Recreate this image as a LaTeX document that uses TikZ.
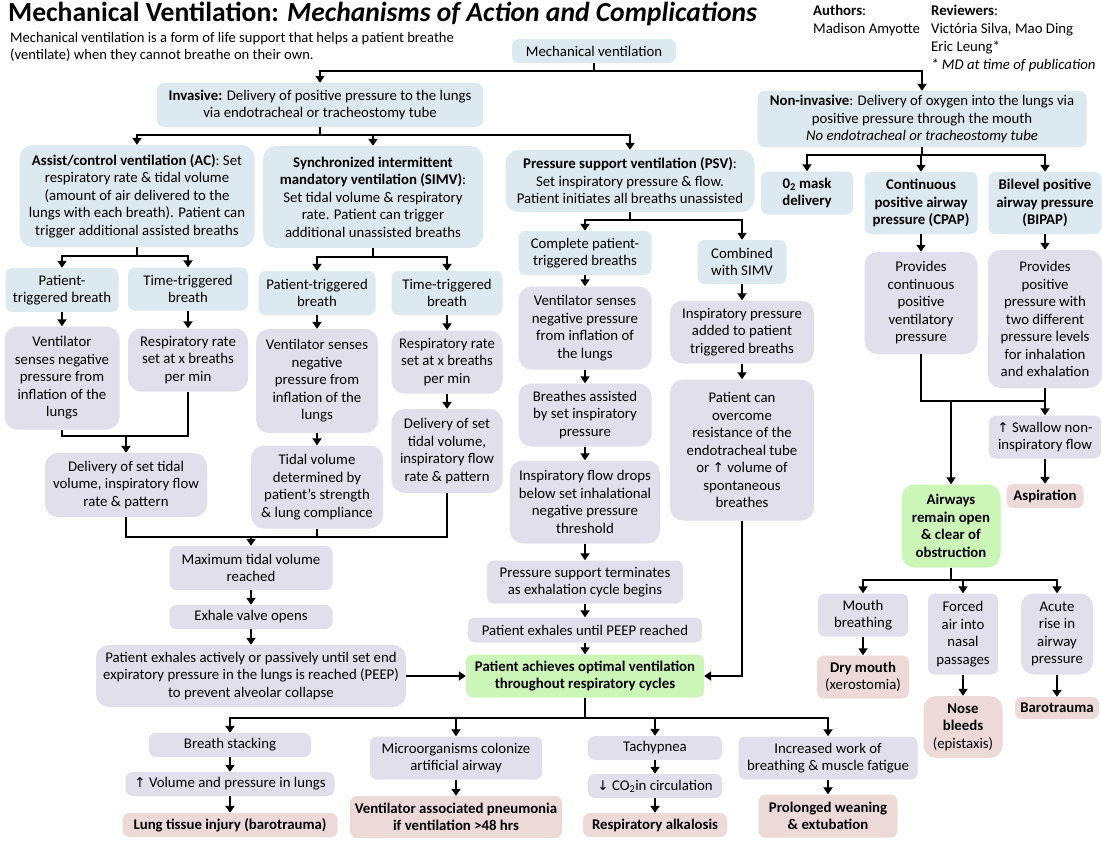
\documentclass[tikz,border=0pt]{standalone}
\usepackage{fontspec}
\setmainfont{Carlito}
\newfontfamily\arrowfont{DejaVu Sans}
\usetikzlibrary{arrows.meta}
\definecolor{bluefill}{HTML}{DCE9F0}
\definecolor{purfill}{HTML}{E2DFEC}
\definecolor{pinkfill}{HTML}{EDDAD8}
\definecolor{greenfill}{HTML}{CCF6B8}
\newcommand{\uparr}{{\arrowfont\fontsize{13.5}{14}\selectfont ↑}}
\newcommand{\downarr}{{\arrowfont\fontsize{13.5}{14}\selectfont ↓}}
\tikzset{
  box/.style={rounded corners=7pt, align=center, inner sep=1pt,
    font=\fontsize{14.8}{17.5}\selectfont},
  blu/.style={box, fill=bluefill},
  pur/.style={box, fill=purfill},
  pnk/.style={box, fill=pinkfill, font=\fontsize{14.8}{17.5}\selectfont\bfseries},
  grn/.style={box, fill=greenfill, font=\fontsize{14.8}{17.5}\selectfont\bfseries},
  big/.style={rounded corners=13pt},
  wh/.style 2 args={minimum width=#1pt, minimum height=#2pt},
  ln/.style={line width=2.8pt},
  arr/.style={ln, -{Triangle[length=7pt, width=9pt]}},
}

\begin{document}
\begin{tikzpicture}[x=1pt, y=-1pt]
  \path[fill=white] (0,0) rectangle (1102,847);
  \useasboundingbox (0,0) rectangle (1102,847);

  % header
  \node[anchor=base west, inner sep=0] (title) at (8,21)
    {\fontsize{27.6}{30}\selectfont\bfseries Mechanical Ventilation: \textit{Mechanisms of Action and Complications}};
  \node[anchor=north west, align=left, inner sep=0, font=\fontsize{14.6}{17}\selectfont] (intro) at (10,32)
    {Mechanical ventilation is a form of life support that helps a patient breathe\\(ventilate) when they cannot breathe on their own.};
  \node[anchor=north west, align=left, inner sep=0, font=\fontsize{14.8}{18}\selectfont] (auth) at (813,5)
    {\textbf{Authors}:\\Madison Amyotte};
  \node[anchor=north west, align=left, inner sep=0, font=\fontsize{14.8}{18}\selectfont] (rev) at (931,5)
    {\textbf{Reviewers}:\\Victória Silva, Mao Ding\\Eric Leung*\\\textit{* MD at time of publication}};

  % top levels
  \node[blu, wh={164}{24}] (mv) at (594,51) {Mechanical ventilation};
  \node[blu, wh={326}{44}] (inv) at (320,105)
    {\textbf{Invasive:} Delivery of positive pressure to the lungs\\via endotracheal or tracheostomy tube};
  \node[blu, wh={329}{56}] (noninv) at (922,119)
    {\textbf{Non-invasive}: Delivery of oxygen into the lungs via\\positive pressure through the mouth\\\textit{No endotracheal or tracheostomy tube}};

  % invasive modes
  \node[blu, big, wh={235}{102}] (ac) at (137,196)
    {\textbf{Assist/control ventilation (AC)}: Set\\respiratory rate \& tidal volume\\(amount of air delivered to the\\lungs with each breath). Patient can\\trigger additional assisted breaths};
  \node[blu, big, wh={220}{102}] (simv) at (373,197)
    {\textbf{Synchronized intermittent}\\\textbf{mandatory ventilation (SIMV)}:\\Set tidal volume \& respiratory\\rate. Patient can trigger\\additional unassisted breaths};
  \node[blu, big, wh={249}{62}] (psv) at (630,181)
    {\textbf{Pressure support ventilation (PSV)}:\\Set inspiratory pressure \& flow.\\Patient initiates all breaths unassisted};

  % non-invasive modes
  \node[blu, wh={92}{43}] (otwo) at (807,193) {\textbf{0\textsubscript{2} mask}\\\textbf{delivery}};
  \node[blu, wh={113}{62}] (cpap) at (921,203)
    {\textbf{Continuous}\\\textbf{positive airway}\\\textbf{pressure (CPAP)}};
  \node[blu, wh={113}{62}] (bipap) at (1045,203)
    {\textbf{Bilevel positive}\\\textbf{airway pressure}\\\textbf{(BIPAP)}};

  % AC branch
  \node[blu, wh={113}{44}] (acpt) at (62,290) {Patient-\\triggered breath};
  \node[blu, wh={120}{43}] (actt) at (188,289) {Time-triggered\\breath};
  \node[pur, big, wh={115}{103}] (acvs) at (62,378)
    {Ventilator\\senses negative\\pressure from\\inflation of the\\lungs};
  \node[pur, big, wh={120}{63}] (acrr) at (188,360) {Respiratory rate\\set at x breaths\\per min};
  \node[pur, big, wh={162}{64}] (acdel) at (126,485)
    {Delivery of set tidal\\volume, inspiratory flow\\rate \& pattern};

  % SIMV branch
  \node[blu, wh={117}{44}] (simvpt) at (317,293) {Patient-triggered\\breath};
  \node[blu, wh={111}{44}] (simvtt) at (447,293) {Time-triggered\\breath};
  \node[pur, big, wh={122}{104}] (simvvs) at (317,381)
    {Ventilator senses\\negative\\pressure from\\inflation of the\\lungs};
  \node[pur, big, wh={111}{63}] (simvrr) at (447,362) {Respiratory rate\\set at x breaths\\per min};
  \node[pur, big, wh={111}{84}] (simvdel) at (447,451)
    {Delivery of set\\tidal volume,\\inspiratory flow\\rate \& pattern};
  \node[pur, big, wh={132}{83}] (simvtv) at (317,487)
    {Tidal volume\\determined by\\patient’s strength\\\& lung compliance};

  \node[pur, wh={163}{44}] (maxtv) at (251,568) {Maximum tidal volume\\reached};
  \node[pur, wh={163}{24}] (exhale) at (251,617) {Exhale valve opens};
  \node[pur, big, wh={310}{62}] (pexh) at (251,676)
    {Patient exhales actively or passively until set end\\expiratory pressure in the lungs is reached (PEEP)\\to prevent alveolar collapse};

  % PSV branch
  \node[blu, wh={133}{44}] (pscomp) at (585,253) {Complete patient-\\triggered breaths};
  \node[pur, big, wh={133}{83}] (pcvs) at (585,328)
    {Ventilator senses\\negative pressure\\from inflation of\\the lungs};
  \node[pur, big, wh={133}{63}] (pcba) at (585,415) {Breathes assisted\\by set inspiratory\\pressure};
  \node[pur, big, wh={150}{83}] (pcflow) at (585,502)
    {Inspiratory flow drops\\below set inhalational\\negative pressure\\threshold};
  \node[pur, wh={196}{43}] (pcterm) at (585,582) {Pressure support terminates\\as exhalation cycle begins};
  \node[pur, wh={234}{25}] (pcpeep) at (585,630) {Patient exhales until PEEP reached};
  \node[blu, wh={89}{44}] (comb) at (742,262) {Combined\\with SIMV};
  \node[pur, big, wh={144}{63}] (cinsp) at (742,332)
    {Inspiratory pressure\\added to patient\\triggered breaths};
  \node[pur, big, wh={144}{141}] (covr) at (742,450)
    {Patient can\\overcome\\resistance of the\\endotracheal tube\\or \uparr{} volume of\\spontaneous\\breathes};

  \node[grn, wh={238}{43}] (opt) at (585,676)
    {Patient achieves optimal ventilation\\throughout respiratory cycles};

  % complications of invasive ventilation
  \node[pur, wh={162}{24}] (bstack) at (230,745) {Breath stacking};
  \node[pur, wh={209}{24}] (bvol) at (230,784) {\uparr{} Volume and pressure in lungs};
  \node[pnk, wh={215}{24}] (binj) at (230,825) {Lung tissue injury (barotrauma)};
  \node[pur, wh={172}{43}] (micro) at (456,758) {Microorganisms colonize\\artificial airway};
  \node[pnk, wh={212}{42}] (vap) at (456,817)
    {Ventilator associated pneumonia\\if ventilation >48 hrs};
  \node[pur, wh={134}{24}] (tachy) at (655,748) {Tachypnea};
  \node[pur, wh={134}{24}] (cotwo) at (655,786) {\downarr{} CO\textsubscript{2}in circulation};
  \node[pnk, wh={144}{24}] (ralk) at (655,825) {Respiratory alkalosis};
  \node[pur, wh={179}{43}] (incw) at (828,758) {Increased work of\\breathing \& muscle fatigue};
  \node[pnk, wh={139}{43}] (prolong) at (828,816) {Prolonged weaning\\\& extubation};

  % non-invasive branch
  \node[pur, big, wh={113}{102}] (cpapp) at (921,303)
    {Provides\\continuous\\positive\\ventilatory\\pressure};
  \node[pur, big, wh={114}{138}] (bipapp) at (1045,319)
    {Provides\\positive\\pressure with\\two different\\pressure levels\\for inhalation\\and exhalation};
  \node[pur, wh={112}{43}] (swallow) at (1045,437) {\uparr{} Swallow non-\\inspiratory flow};
  \node[pnk, wh={77}{24}] (aspir) at (1045,496) {Aspiration};
  \node[grn, big, wh={99}{83}] (airw) at (951,526)
    {Airways\\remain open\\\& clear of\\obstruction};
  \node[pur, wh={90}{43}] (mouth) at (863,615) {Mouth\\breathing};
  \node[pnk, wh={92}{43}] (drym) at (863,677) {Dry mouth\\\textmd{(xerostomia)}};
  \node[pur, wh={70}{81}] (forced) at (963,634) {Forced\\air into\\nasal\\passages};
  \node[pnk, big, wh={79}{62}] (nose) at (963,727) {Nose\\bleeds\\\textmd{(epistaxis)}};
  \node[pur, big, wh={72}{81}] (acute) at (1057,634) {Acute\\rise in\\airway\\pressure};
  \node[pnk, wh={84}{22}] (baro) at (1057,708) {Barotrauma};

  % junctions
  \coordinate (mvj) at (594,71);
  \coordinate (invj) at (320,135);
  \coordinate (nij) at (922,155);
  \coordinate (acj) at (137,256);
  \coordinate (acm) at (126,436);
  \coordinate (simvj) at (373,257);
  \coordinate (mxj) at (251,537);
  \coordinate (psvj) at (630,220);
  \coordinate (optj) at (585,718);
  \coordinate (npj) at (951,401);
  \coordinate (awj) at (951,580);

  % connectors
  \draw[ln] (mv.south) -- (mvj);
  \draw[arr] (mvj) -| (inv.north);
  \draw[arr] (mvj) -| (noninv.north);
  \draw[ln] (inv.south) -- (invj);
  \draw[arr] (invj) -| (ac.north);
  \draw[arr] (invj) -| (simv.north);
  \draw[arr] (invj) -| (psv.north);
  \draw[ln] (noninv.south) -- (nij);
  \draw[arr] (nij) -| (otwo.north);
  \draw[arr] (nij) -| (cpap.north);
  \draw[arr] (nij) -| (bipap.north);

  \draw[ln] (ac.south) -- (acj);
  \draw[arr] (acj) -| (acpt.north);
  \draw[arr] (acj) -| (actt.north);
  \draw[arr] (acpt) -- (acvs);
  \draw[arr] (actt) -- (acrr);
  \draw[ln] (acvs.south) |- (acm) -| (acrr.south);
  \draw[arr] (acm) -- (acdel.north);

  \draw[ln] (simv.south) -- (simvj);
  \draw[arr] (simvj) -| (simvpt.north);
  \draw[arr] (simvj) -| (simvtt.north);
  \draw[arr] (simvpt) -- (simvvs);
  \draw[arr] (simvvs) -- (simvtv);
  \draw[arr] (simvtt) -- (simvrr);
  \draw[arr] (simvrr) -- (simvdel);

  \draw[ln] (acdel.south) |- (mxj) -| (simvdel.south);
  \draw[ln] (simvtv.south) -- (simvtv.south |- mxj);
  \draw[arr] (mxj) -- (maxtv.north);
  \draw[arr] (maxtv) -- (exhale);
  \draw[arr] (exhale) -- (pexh);
  \draw[arr] (pexh.east) -- (opt.west);

  \draw[ln] (psv.south) -- (psvj);
  \draw[arr] (psvj) -| (pscomp.north);
  \draw[arr] (psvj) -| (comb.north);
  \draw[arr] (pscomp) -- (pcvs);
  \draw[arr] (pcvs) -- (pcba);
  \draw[arr] (pcba) -- (pcflow);
  \draw[arr] (pcflow) -- (pcterm);
  \draw[arr] (pcterm) -- (pcpeep);
  \draw[arr] (pcpeep) -- (opt);
  \draw[arr] (comb) -- (cinsp);
  \draw[arr] (cinsp) -- (covr);
  \draw[arr] (covr.south) |- (opt.east);

  \draw[ln] (opt.south) -- (optj);
  \draw[arr] (optj) -| (bstack.north);
  \draw[arr] (optj) -| (micro.north);
  \draw[arr] (optj) -| (tachy.north);
  \draw[arr] (optj) -| (incw.north);
  \draw[arr] (bstack) -- (bvol);
  \draw[arr] (bvol) -- (binj);
  \draw[arr] (micro) -- (vap);
  \draw[arr] (tachy) -- (cotwo);
  \draw[arr] (cotwo) -- (ralk);
  \draw[arr] (incw) -- (prolong);

  \draw[arr] (cpap) -- (cpapp);
  \draw[arr] (bipap) -- (bipapp);
  \draw[ln] (cpapp.south) |- (swallow.north |- npj);
  \draw[arr] (bipapp) -- (swallow);
  \draw[arr] (npj) -- (airw.north);
  \draw[arr] (swallow) -- (aspir);
  \draw[ln] (airw.south) -- (awj);
  \draw[arr] (awj) -| (mouth.north);
  \draw[arr] (awj) -| (forced.north);
  \draw[arr] (awj) -| (acute.north);
  \draw[arr] (mouth) -- (drym);
  \draw[arr] (forced) -- (nose);
  \draw[arr] (acute) -- (baro);
\end{tikzpicture}
\end{document}
